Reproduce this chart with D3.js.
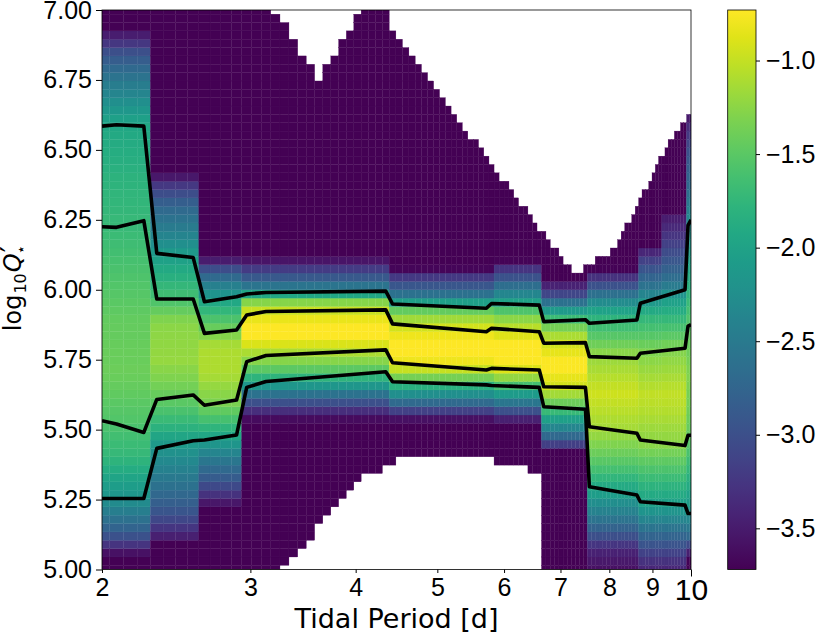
<!DOCTYPE html>
<html>
<head>
<meta charset="utf-8">
<script src="https://cdn.jsdelivr.net/npm/d3@7"></script>
<style>
  body { margin: 0; background: #fff; }
  svg { display: block; font-family: "DejaVu Sans", sans-serif; }
</style>
</head>
<body>
<div id="chart"></div>
<script>
// grid of the density map (columns linear in period, rows linear in log10 Q)
const nCols = 100;
const nRows = 68;
const periodRange = [2, 10];
const logQRange = [5, 7];

// vertical bands: first column of each band and its log-density profile
const bandStart = [0, 4, 8, 12, 30, 48, 58, 69, 83, 90, 98];
const bandQ = [
  [5.04, 5.075, 5.105, 5.135, 5.2, 5.254, 5.4, 5.53, 5.7, 5.9, 6.22, 6.4, 6.59, 6.7, 6.78, 6.85, 6.9, 6.95],
  [5.09, 5.12, 5.15, 5.2, 5.3, 5.44, 5.52, 5.61, 5.75, 5.88, 5.967, 6.12, 6.2, 6.3, 6.37, 6.41, 6.43],
  [5.22, 5.245, 5.275, 5.3, 5.33, 5.38, 5.42, 5.47, 5.52, 5.59, 5.7, 5.8, 5.85, 5.9, 5.96, 6.0, 6.03, 6.06, 6.085, 6.1, 6.12],
  [5.52, 5.545, 5.57, 5.6, 5.63, 5.66, 5.69, 5.73, 5.77, 5.85, 5.92, 5.94, 5.97, 6.0, 6.03, 6.06, 6.09, 6.12],
  [5.52, 5.545, 5.57, 5.6, 5.63, 5.665, 5.69, 5.725, 5.79, 5.87, 5.92, 5.95, 5.97, 6.0, 6.03, 6.06, 6.08],
  [5.51, 5.535, 5.56, 5.59, 5.62, 5.651, 5.68, 5.713, 5.78, 5.85, 5.91, 5.945, 5.97, 6.0, 6.03, 6.06, 6.09, 6.11],
  [5.42, 5.44, 5.46, 5.49, 5.52, 5.55, 5.58, 5.62, 5.65, 5.73, 5.81, 5.85, 5.89, 5.925, 5.955, 5.985, 6.015, 6.04],
  [5.0, 5.06, 5.09, 5.12, 5.16, 5.2, 5.24, 5.28, 5.33, 5.4, 5.5, 5.63, 5.76, 5.82, 5.89, 5.94, 5.97, 6.0, 6.03, 6.06, 6.08],
  [5.0, 5.04, 5.08, 5.13, 5.18, 5.23, 5.35, 5.45, 5.62, 5.775, 5.9, 5.96, 6.0, 6.05, 6.1, 6.14, 6.17],
  [5.0, 5.04, 5.08, 5.13, 5.18, 5.23, 5.35, 5.45, 5.62, 5.785, 5.9, 5.99, 6.0, 6.05, 6.1, 6.15, 6.2, 6.26, 6.29],
  [5.04, 5.07, 5.12, 5.2, 5.3, 5.48, 5.7, 5.875, 6.0, 6.25, 6.35, 6.5, 6.6, 6.64],
];
const bandV = [
  [-3.8, -3.42, -3.1, -2.85, -2.5, -2.2, -1.75, -1.55, -1.4, -1.45, -1.7, -1.8, -1.95, -2.35, -2.65, -3.0, -3.4, -3.8],
  [-3.8, -3.45, -3.25, -2.97, -2.6, -2.15, -1.75, -1.45, -1.2, -1.25, -1.6, -2.05, -2.4, -2.75, -3.2, -3.6, -3.8],
  [-3.8, -3.45, -3.25, -3.05, -2.85, -2.6, -2.35, -2.0, -1.7, -1.35, -1.1, -1.1, -1.35, -1.6, -1.95, -2.3, -2.55, -2.85, -3.15, -3.4, -3.8],
  [-3.8, -3.55, -3.3, -2.95, -2.55, -2.1, -1.75, -1.35, -1.15, -0.6, -0.95, -1.05, -1.5, -2.4, -2.75, -3.05, -3.35, -3.8],
  [-3.8, -3.5, -3.1, -2.65, -2.2, -1.7, -1.3, -0.9, -0.6, -0.95, -1.35, -1.9, -2.45, -2.75, -3.1, -3.35, -3.8],
  [-3.8, -3.5, -3.1, -2.65, -2.2, -1.7, -1.3, -0.9, -0.6, -0.95, -1.35, -1.85, -2.2, -2.5, -2.8, -3.15, -3.4, -3.8],
  [-3.8, -3.3, -2.95, -2.55, -2.2, -1.9, -1.55, -1.2, -0.95, -0.7, -0.95, -1.2, -1.6, -2.1, -2.6, -3.1, -3.45, -3.8],
  [-3.6, -3.45, -3.25, -3.0, -2.7, -2.45, -2.25, -2.0, -1.75, -1.45, -1.15, -0.95, -1.2, -1.45, -1.75, -2.1, -2.45, -2.8, -3.15, -3.45, -3.8],
  [-3.4, -3.25, -3.0, -2.7, -2.35, -2.05, -1.6, -1.25, -1.0, -1.3, -1.75, -2.15, -2.5, -2.8, -3.1, -3.45, -3.8],
  [-3.4, -3.25, -3.0, -2.7, -2.35, -2.05, -1.6, -1.25, -1.0, -1.3, -1.75, -2.2, -2.4, -2.7, -2.9, -3.1, -3.3, -3.5, -3.8],
  [-3.8, -3.3, -2.7, -2.2, -1.9, -1.45, -1.3, -1.5, -1.8, -2.3, -2.65, -3.0, -3.4, -3.8],
];

// upper edge of the sampled region (above it the map is empty)
const topP = [2.0, 3.131, 3.212, 3.293, 3.374, 3.455, 3.535, 3.616, 3.697, 3.778, 3.859, 3.939, 4.020, 4.101, 4.343, 4.424, 7.253, 8.04, 8.61, 9.31, 10.0];
const topQ = [7.1, 7.1, 6.986, 6.952, 6.893, 6.833, 6.803, 6.744, 6.803, 6.833, 6.893, 6.922, 6.986, 7.1, 7.1, 6.925, 6.055, 6.135, 6.289, 6.5, 6.63];

// lower edge of the sampled region, as runs of columns
const bottomFrom = [0, 16, 17, 18, 19, 20, 21, 22, 23, 24, 25, 26, 29, 31, 48, 55, 58];
const bottomQ = [4.9, 5.016, 5.046, 5.076, 5.105, 5.165, 5.195, 5.224, 5.254, 5.284, 5.314, 5.344, 5.38, 5.409, 5.38, 5.35, 4.9];

// credible-interval lines
const lineP = [2.0, 2.081, 2.242, 2.323, 2.566, 2.646, 2.889, 2.970, 3.131, 4.343, 4.424, 5.717, 5.798, 6.606, 6.687, 7.494, 7.575, 8.626, 8.707, 9.838, 9.919, 10.0];
const lineUpper2 = [6.585, 6.59, 6.585, 6.13, 6.115, 5.957, 5.975, 5.985, 5.99, 5.995, 5.949, 5.934, 5.951, 5.945, 5.886, 5.893, 5.88, 5.892, 5.952, 6.0, 6.23, 6.25];
const lineUpper1 = [6.225, 6.223, 6.247, 5.967, 5.967, 5.844, 5.856, 5.91, 5.922, 5.928, 5.878, 5.85, 5.862, 5.85, 5.809, 5.811, 5.761, 5.755, 5.773, 5.791, 5.87, 5.875];
const lineLower1 = [5.532, 5.52, 5.49, 5.608, 5.624, 5.587, 5.606, 5.743, 5.765, 5.785, 5.739, 5.713, 5.719, 5.713, 5.653, 5.651, 5.51, 5.487, 5.463, 5.443, 5.48, 5.48];
const lineLower2 = [5.254, 5.254, 5.254, 5.433, 5.46, 5.463, 5.481, 5.651, 5.672, 5.707, 5.671, 5.66, 5.658, 5.651, 5.582, 5.573, 5.296, 5.266, 5.242, 5.23, 5.2, 5.2];

const xTicks = [2, 3, 4, 5, 6, 7, 8, 9, 10];
const xMajor = [10];
const yTicks = [5.0, 5.25, 5.5, 5.75, 6.0, 6.25, 6.5, 6.75, 7.0];
const cTicks = [-3.5, -3.0, -2.5, -2.0, -1.5, -1.0];
const colorDomain = [-3.72, -0.73];

// layout
const width = 830;
const height = 635;
const plot = { left: 102, right: 691, top: 10, bottom: 569.5 };
const cbar = { left: 727.7, right: 756, top: 10, bottom: 569.5 };

const svg = d3.select("#chart").append("svg")
  .attr("width", width)
  .attr("height", height);

const x = d3.scaleLog().domain(periodRange).range([plot.left, plot.right]);
const y = d3.scaleLinear().domain(logQRange).range([plot.bottom, plot.top]);
const color = d3.scaleSequential(d3.interpolateViridis).domain(colorDomain).clamp(true);
const topEdge = d3.scaleLog().domain(topP).range(topQ);
const profiles = bandQ.map((q, i) => d3.scaleLinear().domain(q).range(bandV[i]).clamp(true));

// cells
const dP = (periodRange[1] - periodRange[0]) / (nCols - 1);
const dQ = (logQRange[1] - logQRange[0]) / (nRows - 1);
const cells = [];
d3.range(nCols).forEach((k) => {
  const p = periodRange[0] + k * dP;
  const top = topEdge(p);
  const bottom = bottomQ[d3.bisectRight(bottomFrom, k) - 1];
  const profile = profiles[d3.bisectRight(bandStart, k) - 1];
  d3.range(nRows).forEach((j) => {
    const q = logQRange[0] + j * dQ;
    if (q >= top || q <= bottom) return;
    cells.push({ p, q, v: profile(q) });
  });
});

const defs = svg.append("defs");
defs.append("clipPath").attr("id", "plot-clip")
  .append("rect")
  .attr("x", plot.left).attr("y", plot.top)
  .attr("width", plot.right - plot.left)
  .attr("height", plot.bottom - plot.top);

const clampP = (p) => Math.max(periodRange[0], Math.min(periodRange[1], p));
const clampQ = (q) => Math.max(logQRange[0], Math.min(logQRange[1], q));

// thin same-colour stroke hides most of the seams between cells
svg.append("g")
  .attr("clip-path", "url(#plot-clip)")
  .selectAll("rect")
  .data(cells)
  .join("rect")
  .attr("x", (d) => x(clampP(d.p - dP / 2)))
  .attr("width", (d) => x(clampP(d.p + dP / 2)) - x(clampP(d.p - dP / 2)))
  .attr("y", (d) => y(clampQ(d.q + dQ / 2)))
  .attr("height", (d) => y(clampQ(d.q - dQ / 2)) - y(clampQ(d.q + dQ / 2)))
  .attr("fill", (d) => color(d.v))
  .attr("stroke", (d) => color(d.v))
  .attr("stroke-width", 0.3);

// interval lines
const line = d3.line()
  .x((d) => x(d[0]))
  .y((d) => y(d[1]));

svg.append("g")
  .attr("clip-path", "url(#plot-clip)")
  .selectAll("path")
  .data([lineUpper2, lineUpper1, lineLower1, lineLower2])
  .join("path")
  .attr("d", (vals) => line(lineP.map((p, i) => [p, vals[i]])))
  .attr("fill", "none")
  .attr("stroke", "#000")
  .attr("stroke-width", 3.6)
  .attr("stroke-linejoin", "round");

// frame
svg.append("rect")
  .attr("x", plot.left).attr("y", plot.top)
  .attr("width", plot.right - plot.left)
  .attr("height", plot.bottom - plot.top)
  .attr("fill", "none")
  .attr("stroke", "#000")
  .attr("stroke-width", 0.8);

// axes (the decade tick is a major tick with a larger label)
const isMajor = (d) => xMajor.includes(d);
const xAxis = svg.append("g")
  .attr("transform", `translate(0,${plot.bottom})`)
  .call(d3.axisBottom(x).tickValues(xTicks).tickFormat(d3.format("d")).tickSize(4).tickPadding(4));
xAxis.select(".domain").remove();
xAxis.selectAll(".tick text")
  .attr("font-size", (d) => (isMajor(d) ? 30 : 25))
  .attr("dy", null)
  .attr("y", (d) => (isMajor(d) ? 30.5 : 26.5))
  .attr("fill", "#000");
xAxis.selectAll(".tick line").attr("y2", (d) => (isMajor(d) ? 7 : 3.5));

const yAxis = svg.append("g")
  .attr("transform", `translate(${plot.left},0)`)
  .call(d3.axisLeft(y).tickValues(yTicks).tickFormat(d3.format(".2f")).tickSize(6).tickPadding(4));
yAxis.select(".domain").remove();
yAxis.selectAll(".tick text").attr("font-size", 25).attr("fill", "#000");

svg.append("text")
  .attr("x", (plot.left + plot.right) / 2)
  .attr("y", 628)
  .attr("text-anchor", "middle")
  .attr("font-size", 27)
  .text("Tidal Period [d]");

const yLabel = svg.append("text")
  .attr("transform", "translate(21,288) rotate(-90)")
  .attr("text-anchor", "middle")
  .attr("font-size", 24);
yLabel.append("tspan").text("log");
yLabel.append("tspan").attr("font-size", 16).attr("dx", 1).attr("dy", 5).text("10");
yLabel.append("tspan").attr("dx", 1).attr("dy", -5).attr("font-style", "italic").text("Q");
yLabel.append("tspan").attr("font-size", 27).attr("dx", 1).attr("dy", -1).text("′");
yLabel.append("tspan").attr("font-size", 15).attr("dx", -8).attr("dy", 6).text("⋆");

// colorbar
const cScale = d3.scaleLinear().domain(colorDomain).range([cbar.bottom, cbar.top]);
const grad = defs.append("linearGradient")
  .attr("id", "cbar-grad")
  .attr("x1", 0).attr("y1", 1).attr("x2", 0).attr("y2", 0);
grad.selectAll("stop")
  .data(d3.range(0, 1.0001, 0.05))
  .join("stop")
  .attr("offset", (t) => t)
  .attr("stop-color", (t) => d3.interpolateViridis(t));

svg.append("rect")
  .attr("x", cbar.left).attr("y", cbar.top)
  .attr("width", cbar.right - cbar.left)
  .attr("height", cbar.bottom - cbar.top)
  .attr("fill", "url(#cbar-grad)")
  .attr("stroke", "#000")
  .attr("stroke-width", 0.8);

const cAxis = svg.append("g")
  .attr("transform", `translate(${cbar.right},0)`)
  .call(d3.axisRight(cScale).tickValues(cTicks).tickFormat(d3.format(".1f")).tickSize(4).tickPadding(6));
cAxis.select(".domain").remove();
cAxis.selectAll(".tick text").attr("font-size", 25).attr("fill", "#000");
</script>
</body>
</html>
